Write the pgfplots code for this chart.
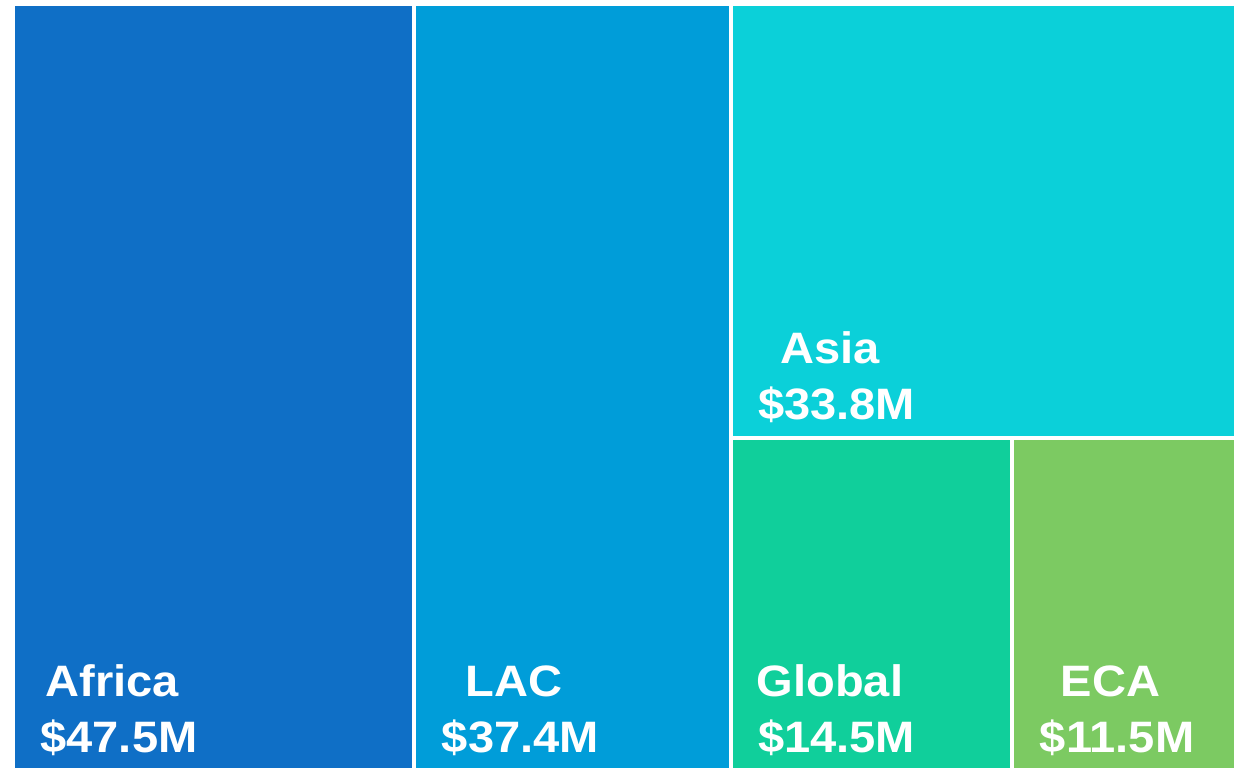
\documentclass[border=0pt]{standalone}
\usepackage{pgfplots}
\pgfplotsset{compat=1.18}
\usepackage{fontspec}
\setmainfont{Liberation Sans}

\definecolor{cAfrica}{HTML}{0F6FC6}
\definecolor{cLAC}{HTML}{009DD9}
\definecolor{cAsia}{HTML}{0BD0D9}
\definecolor{cGlobal}{HTML}{10CF9B}
\definecolor{cECA}{HTML}{7CCA62}

\tikzset{lab/.style={font=\fontsize{22pt}{26pt}\selectfont\bfseries, text=white, inner sep=0pt, xscale=1.07}}

\begin{document}
\begin{tikzpicture}
\path[use as bounding box] (0pt,0pt) rectangle (620.5pt,383.5pt);
\clip (0pt,0pt) rectangle (620.5pt,383.5pt);
\begin{axis}[
    at={(6.5pt,-2.5pt)}, anchor=south west,
    scale only axis, width=611.5pt, height=384pt,
    hide axis, clip=false,
    xmin=0, xmax=144.7, ymin=0, ymax=1,
]
% values: Africa 47.5, LAC 37.4, Asia 33.8, Global 14.5, ECA 11.5 (total 144.7)
\addplot[fill=cAfrica, draw=white, line width=2pt] coordinates {(0,0) (47.5,0) (47.5,1) (0,1)} -- cycle;
\addplot[fill=cLAC, draw=white, line width=2pt] coordinates {(47.5,0) (84.9,0) (84.9,1) (47.5,1)} -- cycle;
\addplot[fill=cAsia, draw=white, line width=2pt] coordinates {(84.9,0.43478) (144.7,0.43478) (144.7,1) (84.9,1)} -- cycle;
\addplot[fill=cGlobal, draw=white, line width=2pt] coordinates {(84.9,0) (118.25,0) (118.25,0.43478) (84.9,0.43478)} -- cycle;
\addplot[fill=cECA, draw=white, line width=2pt] coordinates {(118.25,0) (144.7,0) (144.7,0.43478) (118.25,0.43478)} -- cycle;

\node[lab, anchor=base west] (v1) at ([shift={(13.5pt,10pt)}]axis cs:0,0) {\$47.5M};
\node[lab, anchor=base] at ([yshift=28pt]v1.base) {Africa\kern0.278em};
\node[lab, anchor=base west] (v2) at ([shift={(13.5pt,10pt)}]axis cs:47.5,0) {\$37.4M};
\node[lab, anchor=base] at ([yshift=28pt]v2.base) {LAC\kern0.278em};
\node[lab, anchor=base west] (v3) at ([shift={(13.5pt,9.5pt)}]axis cs:84.9,0.43478) {\$33.8M};
\node[lab, anchor=base] at ([yshift=28pt]v3.base) {Asia\kern0.278em};
\node[lab, anchor=base west] (v4) at ([shift={(13.5pt,10pt)}]axis cs:84.9,0) {\$14.5M};
\node[lab, anchor=base] at ([yshift=28pt]v4.base) {Global\kern0.278em};
\node[lab, anchor=base west] (v5) at ([shift={(13.5pt,10pt)}]axis cs:118.25,0) {\$11.5M};
\node[lab, anchor=base] at ([yshift=28pt]v5.base) {ECA\kern0.278em};
\end{axis}
\end{tikzpicture}
\end{document}
